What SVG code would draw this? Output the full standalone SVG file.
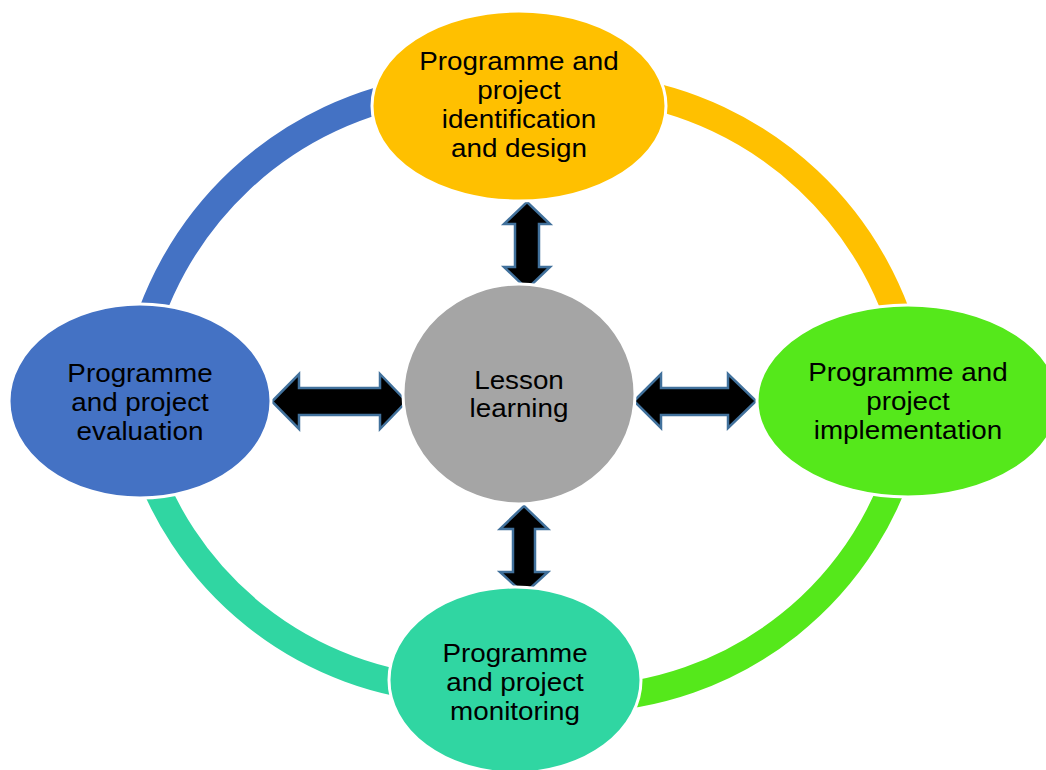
<svg xmlns="http://www.w3.org/2000/svg" width="1046" height="770" viewBox="0 0 1046 770">
  <style>
    .ring { fill: none; stroke-width: 27; }
    .node { stroke: #ffffff; stroke-width: 3; }
    .label { font-family: "Liberation Sans", Arial, sans-serif; font-size: 26px; fill: #000000; text-anchor: middle; }
    .arrow { fill: #000000; stroke: #41719C; stroke-width: 2.5; stroke-linejoin: miter; }
  </style>
  <rect width="1046" height="770" fill="#ffffff"/>

  <!-- outer cycle ring, one coloured arc per stage -->
  <g id="connectors">
    <path class="ring" stroke="#4472C4" d="M137.4,362.8 A348,348 0 0 1 429,89.5"/>
    <path class="ring" stroke="#FFC000" d="M619,89.5 A348,348 0 0 1 910.6,362.8"/>
    <path class="ring" stroke="#55E81B" d="M906.9,441.3 A340,340 0 0 1 582.9,698.9"/>
    <path class="ring" stroke="#30D6A2" d="M140.2,443.7 A340,340 0 0 0 449.2,689.5"/>
    <!-- double-headed block arrows to the centre -->
    <polygon class="arrow" points="527,202 550,224 539,224 539,267 550,267 527,289 504,267 515,267 515,224 504,224"/>
    <polygon class="arrow" points="524,506 548,529 535,529 535,572 548,572 524,594 500,572 513,572 513,529 500,529"/>
    <polygon class="arrow" points="272,401.5 299,374 299,388 380,388 380,374 406.5,401.5 380,429 380,415 299,415 299,429"/>
    <polygon class="arrow" points="634,401 661,374 661,388 728,388 728,374 756,401 728,428 728,415 661,415 661,428"/>
  </g>

  <g id="node-design">
    <ellipse class="node" cx="519" cy="106" rx="147" ry="95" fill="#FFC000"/>
    <text class="label" transform="matrix(1.07,0,0,1,-36.33,0)"><tspan x="519" y="70">Programme and</tspan><tspan x="519" y="99">project</tspan><tspan x="519" y="128">identification</tspan><tspan x="519" y="157">and design</tspan></text>
  </g>

  <g id="node-implementation">
    <ellipse class="node" cx="908" cy="401" rx="151" ry="96" fill="#55E81B"/>
    <text class="label" transform="matrix(1.07,0,0,1,-63.56,0)"><tspan x="908" y="381">Programme and</tspan><tspan x="908" y="410">project</tspan><tspan x="908" y="439">implementation</tspan></text>
  </g>

  <g id="node-monitoring">
    <ellipse class="node" cx="515" cy="680" rx="126" ry="93" fill="#30D6A2"/>
    <text class="label" transform="matrix(1.07,0,0,1,-36.05,0)"><tspan x="515" y="662">Programme</tspan><tspan x="515" y="691">and project</tspan><tspan x="515" y="720">monitoring</tspan></text>
  </g>

  <g id="node-evaluation">
    <ellipse class="node" cx="140" cy="401" rx="131" ry="97" fill="#4472C4"/>
    <text class="label" transform="matrix(1.07,0,0,1,-9.8,0)"><tspan x="140" y="382">Programme</tspan><tspan x="140" y="411">and project</tspan><tspan x="140" y="440">evaluation</tspan></text>
  </g>

  <g id="node-lesson">
    <ellipse class="node" cx="519" cy="394" rx="116" ry="110" fill="#A5A5A5"/>
    <text class="label" transform="matrix(1.07,0,0,1,-36.33,0)"><tspan x="519" y="389">Lesson</tspan><tspan x="519" y="417">learning</tspan></text>
  </g>
</svg>
